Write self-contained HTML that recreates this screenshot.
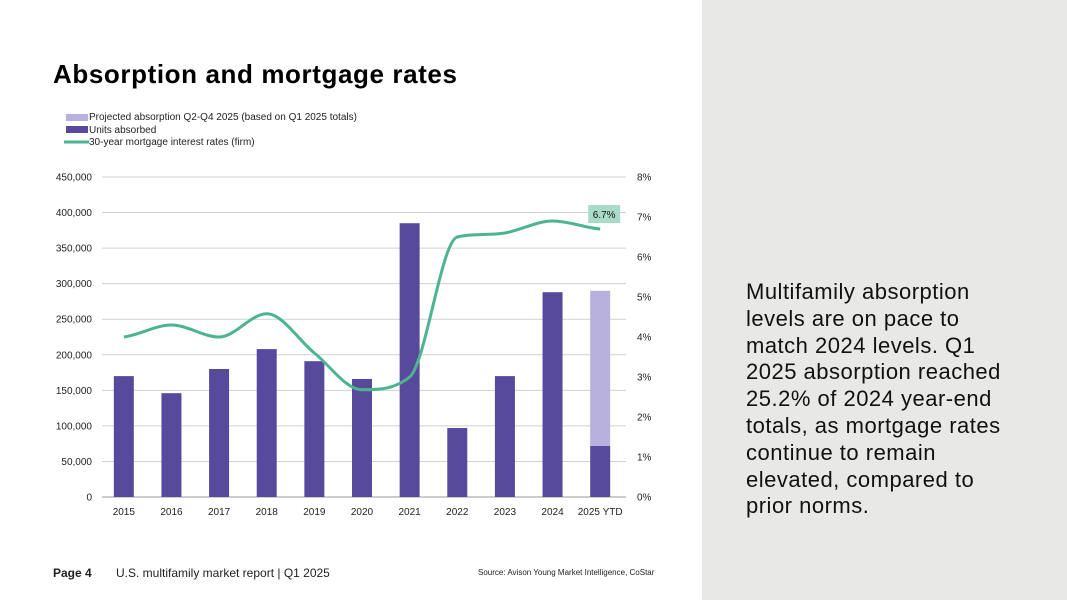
<!DOCTYPE html>
<html><head><meta charset="utf-8"><style>
body{margin:0;width:1067px;height:600px;background:#fff;font-family:"Liberation Sans",sans-serif;position:relative;overflow:hidden}
.panel{position:absolute;left:702px;top:0;width:365px;height:600px;background:#e8e8e6}
.txt{position:absolute;left:746px;top:279px;width:320px;font-size:22px;line-height:26.8px;color:#111;letter-spacing:0.5px;white-space:nowrap}
h1{position:absolute;left:53px;top:59px;margin:0;font-size:26px;font-weight:bold;color:#000;letter-spacing:0.6px}
.foot{position:absolute;top:566px;font-size:12px;color:#222}
</style></head><body>
<div class="panel"></div>
<div class="txt">Multifamily absorption<br>levels are on pace to<br>match 2024 levels. Q1<br>2025 absorption reached<br>25.2% of 2024 year-end<br>totals, as mortgage rates<br>continue to remain<br>elevated, compared to<br>prior norms.</div>
<h1>Absorption and mortgage rates</h1>
<div class="foot" style="left:53px;font-weight:bold">Page 4</div>
<div class="foot" style="left:116px">U.S. multifamily market report | Q1 2025</div>
<div class="foot" style="left:478px;font-size:8px;top:568px">Source: Avison Young Market Intelligence, CoStar</div>
<svg id="c" width="702" height="600" style="position:absolute;left:0;top:0"></svg>
<script>
const categories=["2015","2016","2017","2018","2019","2020","2021","2022","2023","2024","2025 YTD"];
const unitsAbsorbed=[170000,146000,180000,208000,191000,166000,385000,97000,170000,288000,72000];
const projected=[0,0,0,0,0,0,0,0,0,0,218000];
const rates=[4.0,4.3,4.0,4.58,3.6,2.68,3.0,6.5,6.6,6.9,6.7];
const leftTicks=[0,50000,100000,150000,200000,250000,300000,350000,400000,450000];
const rightTicks=[0,1,2,3,4,5,6,7,8];
const NS="http://www.w3.org/2000/svg",svg=document.getElementById('c');
const x0=102,x1=626,yb=497,yt=177;
const yL=v=>yb-(v/450000)*(yb-yt), yR=v=>yb-(v/8)*(yb-yt);
const step=(x1-x0)/categories.length, xc=i=>x0+step*(i+0.5)-2;
function mk(t,a,name){const e=document.createElementNS(NS,t);for(const k in a)e.setAttribute(k,a[k]);svg.appendChild(e);return e;}
leftTicks.forEach(v=>{mk('line',{x1:x0,x2:x1,y1:yL(v),y2:yL(v),stroke:v?'#d0d0d0':'#999','stroke-width':1},'gridline');
const t=mk('text',{x:92,y:yL(v)+3.5,'text-anchor':'end','font-size':10,fill:'#222'},'y-left-tick');t.textContent=v.toLocaleString('en-US');});
rightTicks.forEach(v=>{const t=mk('text',{x:637,y:yR(v)+3.5,'font-size':10,fill:'#222'},'y-right-tick');t.textContent=v+'%';});
categories.forEach((c,i)=>{const w=20;
mk('rect',{x:xc(i)-w/2,y:yL(unitsAbsorbed[i]),width:w,height:yb-yL(unitsAbsorbed[i]),fill:'#574a9d'},'bar-units-'+c);
if(projected[i])mk('rect',{x:xc(i)-w/2,y:yL(unitsAbsorbed[i]+projected[i]),width:w,height:yL(unitsAbsorbed[i])-yL(unitsAbsorbed[i]+projected[i]),fill:'#b8b0dd'},'bar-projected-'+c);
const t=mk('text',{x:xc(i),y:515,'text-anchor':'middle','font-size':10,fill:'#222'},'x-tick');t.textContent=c;});
const P=rates.map((r,i)=>[xc(i),yR(r)]);
const n=P.length,sl=[],m=[];
for(let i=0;i<n-1;i++)sl.push((P[i+1][1]-P[i][1])/(P[i+1][0]-P[i][0]));
for(let i=0;i<n;i++){if(i==0)m.push(sl[0]*0.5);else if(i==n-1)m.push(sl[n-2]*0.5);
else if(sl[i-1]*sl[i]<=0)m.push(0);else{const a=(sl[i-1]+sl[i])/2,lim=3*Math.min(Math.abs(sl[i-1]),Math.abs(sl[i]));m.push(Math.sign(a)*Math.min(Math.abs(a),lim));}}
let d='M'+P[0][0]+','+P[0][1];
for(let i=0;i<n-1;i++){const h=(P[i+1][0]-P[i][0])/3;
d+=` C${P[i][0]+h},${P[i][1]+m[i]*h} ${P[i+1][0]-h},${P[i+1][1]-m[i+1]*h} ${P[i+1][0]},${P[i+1][1]}`;}
mk('path',{d:d,fill:'none',stroke:'#4cb58f','stroke-width':3},'mortgage-rate-line');
const L=P[n-1];
mk('rect',{x:L[0]-12,y:L[1]-24,width:32,height:18,fill:'#a9dcc8'},'rate-label-bg');
const lt=mk('text',{x:L[0]+4,y:L[1]-11,'text-anchor':'middle','font-size':10,fill:'#111'},'rate-label');lt.textContent=rates[n-1]+'%';
mk('rect',{x:66,y:114,width:22,height:7,fill:'#b8b0dd'},'legend-projected-swatch');
mk('rect',{x:66,y:126,width:22,height:7,fill:'#574a9d'},'legend-units-swatch');
mk('line',{x1:64,x2:89,y1:142,y2:142,stroke:'#4cb58f','stroke-width':3},'legend-rate-swatch');
[["Projected absorption Q2-Q4 2025 (based on Q1 2025 totals)",120],["Units absorbed",133],["30-year mortgage interest rates (firm)",145]].forEach(a=>{const t=mk('text',{x:89,y:a[1],'font-size':10,fill:'#222'},'legend-entry');t.textContent=a[0];});
</script>
</body></html>
